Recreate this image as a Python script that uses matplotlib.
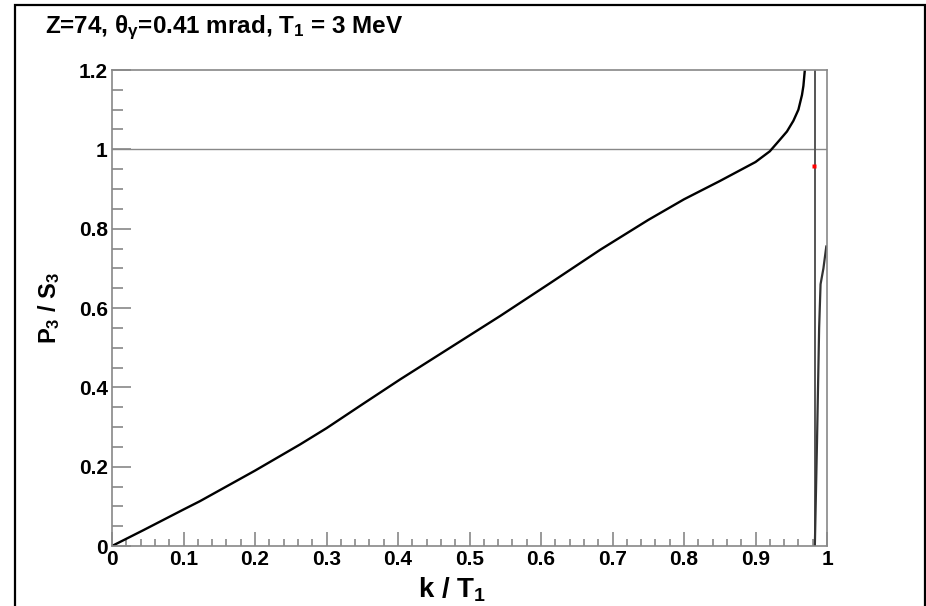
import matplotlib
matplotlib.use("Agg")
import matplotlib.pyplot as plt
from matplotlib.patches import Rectangle
from matplotlib.ticker import MultipleLocator, FixedLocator, FixedFormatter

plt.rcParams['font.family'] = ['Liberation Sans', 'DejaVu Sans']
plt.rcParams['font.weight'] = 'bold'
plt.rcParams['mathtext.fontset'] = 'custom'
plt.rcParams['mathtext.rm'] = 'Liberation Sans:bold'
plt.rcParams['mathtext.it'] = 'Liberation Sans:bold'
plt.rcParams['mathtext.bf'] = 'Liberation Sans:bold'

# main branch of P3/S3 vs k/T1
k_main = [0.0, 0.044, 0.1, 0.123, 0.17, 0.2, 0.263, 0.3, 0.35, 0.403, 0.473, 0.543,
          0.613, 0.683, 0.75, 0.8, 0.85, 0.9, 0.92, 0.934, 0.944, 0.953, 0.96,
          0.965, 0.967, 0.969]
p_main = [0.0, 0.04, 0.092, 0.113, 0.16, 0.19, 0.256, 0.297, 0.357, 0.42, 0.5, 0.58,
          0.663, 0.747, 0.822, 0.874, 0.92, 0.968, 0.995, 1.024, 1.045, 1.072, 1.1,
          1.137, 1.16, 1.2]

# pole and the branch coming back up after it
k_pole = 0.983
k_tail = [0.983, 0.986, 0.989, 0.991, 0.995, 0.999]
p_tail = [0.0, 0.26, 0.55, 0.66, 0.70, 0.755]

# single red point
k_red = [0.982]
p_red = [0.957]

y_ticks = [0, 0.2, 0.4, 0.6, 0.8, 1.0, 1.2]
y_labels = ['0', '0.2', '0.4', '0.6', '0.8', '1', '1.2']
x_ticks = [0, 0.1, 0.2, 0.3, 0.4, 0.5, 0.6, 0.7, 0.8, 0.9, 1.0]
x_labels = ['0', '0.1', '0.2', '0.3', '0.4', '0.5', '0.6', '0.7', '0.8', '0.9', '1']

fig = plt.figure(figsize=(9.26, 6.06), dpi=100)
ax = fig.add_axes([112 / 926, 1 - 546 / 606, (827 - 112) / 926, (546 - 70) / 606])

ax.axhline(1.0, color='#888888', lw=1.0)
ax.axvline(k_pole, color='#555555', lw=1.4)
ax.plot(k_main, p_main, color='black', lw=1.7, solid_capstyle='butt')
ax.plot(k_tail, p_tail, color='#333333', lw=1.6)
ax.plot(k_red, p_red, 's', color='red', ms=2.5, mec='none')

ax.set_xlim(0, 1)
ax.set_ylim(0, 1.2)

gray = '#888888'
for s in ax.spines.values():
    s.set_color(gray)
    s.set_linewidth(1.2)

ax.yaxis.set_major_locator(FixedLocator(y_ticks))
ax.yaxis.set_major_formatter(FixedFormatter(y_labels))
ax.yaxis.set_minor_locator(MultipleLocator(0.05))
ax.xaxis.set_major_locator(FixedLocator(x_ticks))
ax.xaxis.set_major_formatter(FixedFormatter(x_labels))
ax.xaxis.set_minor_locator(MultipleLocator(0.02))

ax.tick_params(axis='y', which='major', direction='in', length=14, width=1.2,
               color=gray, labelsize=15, pad=3)
ax.tick_params(axis='y', which='minor', direction='in', length=8, width=1.2, color=gray)
ax.tick_params(axis='x', which='major', direction='in', length=10, width=1.2,
               color=gray, labelsize=15, pad=3)
ax.tick_params(axis='x', which='minor', direction='in', length=5, width=1.2, color=gray)
for lab in ax.get_xticklabels() + ax.get_yticklabels():
    lab.set_fontweight('bold')

ax.set_xlabel('k / T$_1$', fontsize=20, fontweight='bold')
ax.xaxis.set_label_coords(0.476, -0.062)
ax.xaxis.label.set_va('top')
ax.set_ylabel('P$_3$ / S$_3$', fontsize=17, fontweight='bold', labelpad=12)

fig.text(45 / 926, 1 - 28 / 606, 'Z=74, θ$_γ$=0.41 mrad, T$_1$ = 3 MeV',
         fontsize=17.5, fontweight='bold', va='center', ha='left')

# outer frame around the whole picture
fig.patches.append(Rectangle((15 / 926, -0.05), (925 - 15) / 926, 1.05 - 5 / 606,
                             transform=fig.transFigure, fill=False,
                             edgecolor='black', lw=1.6))

fig.savefig('out.png', dpi=100)
